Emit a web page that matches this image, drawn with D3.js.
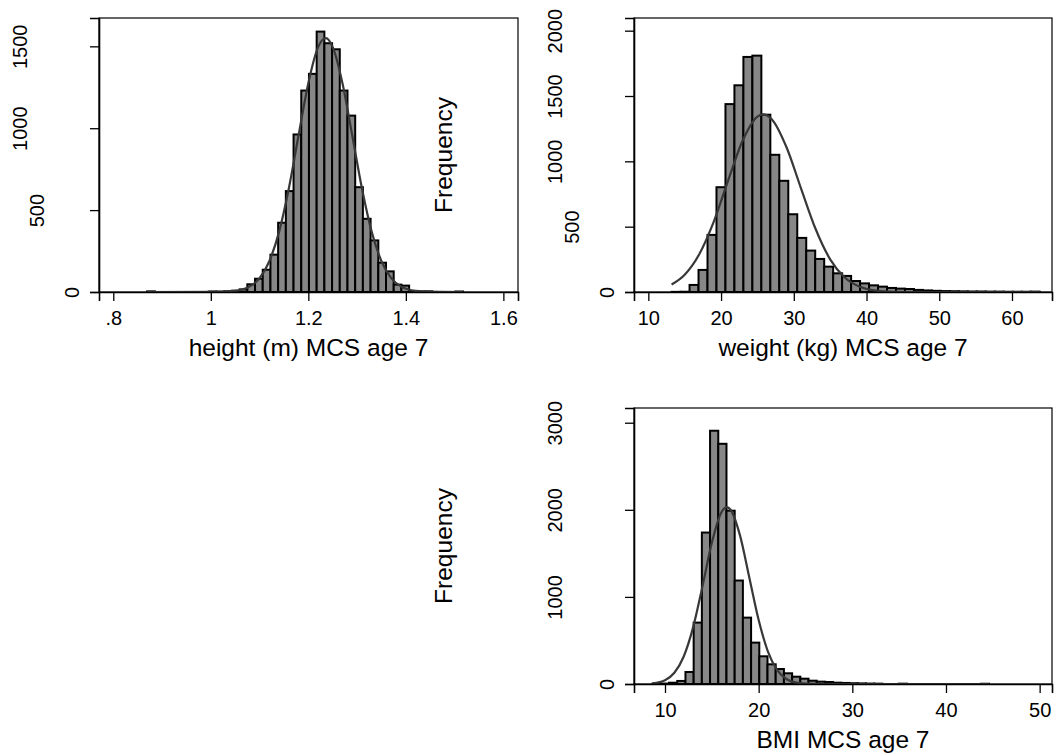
<!DOCTYPE html>
<meta charset="utf-8">
<style>
  body { margin: 0; background: #fff; }
  svg text { font-family: "Liberation Sans", Arial, sans-serif; fill: #000; }
</style>
<body></body>
<script src="https://cdn.jsdelivr.net/npm/d3@7/dist/d3.min.js"></script>
<script>
  // histogram data: first bin edge, bin width, counts per bin
  const heightStart = 0.8695
  const heightWidth = 0.0158
  const heightCounts = [4, 0, 0, 0, 0, 0, 0, 0, 3, 2, 4, 8, 16, 47, 81, 136, 228, 423, 616, 962,
    1230, 1332, 1590, 1519, 1482, 1230, 1077, 640, 447, 315, 179, 126, 45, 39, 6, 2, 4, 0, 0, 0, 3]
  // overlaid normal curve
  const heightCurveX = [0.8695, 1.0, 1.05, 1.08, 1.10, 1.12, 1.14, 1.16, 1.18, 1.20, 1.22, 1.236,
    1.25, 1.27, 1.29, 1.31, 1.33, 1.35, 1.37, 1.39, 1.42, 1.47, 1.517]
  const heightCurveY = [0, 0.2, 7, 34, 85, 188, 367, 632, 957, 1275, 1495, 1550,
    1495, 1275, 957, 632, 367, 188, 85, 34, 7, 0.2, 0]
  const heightXTicks = [0.8, 1, 1.2, 1.4, 1.6]
  const heightYTicks = [0, 500, 1000, 1500]

  const weightStart = 13.2
  const weightWidth = 1.234
  const weightCounts = [1, 2, 54, 169, 437, 802, 1438, 1582, 1799, 1809, 1357, 1050, 851, 595, 414,
    317, 253, 194, 143, 123, 84, 66, 51, 41, 31, 26, 23, 16, 12, 9, 7, 6, 5, 4, 4, 3, 3, 2, 2, 2, 3]
  const weightCurveX = [13.2, 15, 17, 19, 21, 23, 25, 25.8, 27, 29, 31, 33, 35, 37, 39, 41, 44, 48, 55, 63.8]
  const weightCurveY = [57, 132, 289, 539, 858, 1163, 1343, 1360, 1321, 1108, 792, 482, 250, 111, 42, 13, 2, 0, 0, 0]
  const weightXTicks = [10, 20, 30, 40, 50, 60]
  const weightYTicks = [0, 500, 1000, 1500, 2000]

  const bmiStart = 8.68
  const bmiWidth = 0.876
  const bmiCounts = [5, 5, 15, 35, 138, 705, 1739, 2908, 2758, 1990, 1188, 762, 475, 318, 226, 172,
    123, 84, 61, 38, 27, 23, 15, 12, 9, 7, 5, 4, 0, 0, 4, 0, 0, 0, 0, 0, 0, 0, 0, 0, 3]
  const bmiCurveX = [8.68, 10, 11, 12, 13, 14, 15, 16, 16.6, 17, 18, 19, 20, 21, 22, 23, 24, 26, 30, 44.6]
  const bmiCurveY = [8, 44, 129, 316, 650, 1121, 1621, 1967, 2030, 2001, 1709, 1224, 735, 370, 156, 55, 16, 1, 0, 0]
  const bmiXTicks = [10, 20, 30, 40, 50]
  const bmiYTicks = [0, 1000, 2000, 3000]

  const panels = [
    { title: "height (m) MCS age 7", start: heightStart, width: heightWidth, counts: heightCounts,
      curveX: heightCurveX, curveY: heightCurveY, xTicks: heightXTicks, yTicks: heightYTicks,
      xFormat: d => String(d).replace(/^0\./, "."),
      box: { left: 99, right: 518, top: 18, bottom: 292 }, xDomain: [0.7707, 1.630], yMax: 1673,
      ylabel: false },
    { title: "weight (kg) MCS age 7", start: weightStart, width: weightWidth, counts: weightCounts,
      curveX: weightCurveX, curveY: weightCurveY, xTicks: weightXTicks, yTicks: weightYTicks,
      xFormat: d => String(d),
      box: { left: 634, right: 1052, top: 18, bottom: 292 }, xDomain: [8.03, 65.5], yMax: 2097,
      ylabel: true },
    { title: "BMI MCS age 7", start: bmiStart, width: bmiWidth, counts: bmiCounts,
      curveX: bmiCurveX, curveY: bmiCurveY, xTicks: bmiXTicks, yTicks: bmiYTicks,
      xFormat: d => String(d),
      box: { left: 634, right: 1052, top: 408, bottom: 684 }, xDomain: [6.69, 51.32], yMax: 3169,
      ylabel: true }
  ]

  const svg = d3.select("body").append("svg")
    .attr("width", 1057)
    .attr("height", 756)

  svg.append("rect")
    .attr("width", 1057)
    .attr("height", 756)
    .attr("fill", "#fff")

  function drawPanel(p) {
    const b = p.box
    const x = d3.scaleLinear().domain(p.xDomain).range([b.left, b.right])
    const y = d3.scaleLinear().domain([0, p.yMax]).range([b.bottom, b.top])

    const g = svg.append("g")

    // plot region outline
    g.append("rect")
      .attr("x", b.left)
      .attr("y", b.top)
      .attr("width", b.right - b.left)
      .attr("height", b.bottom - b.top)
      .attr("fill", "none")
      .attr("stroke", "#000")
      .attr("stroke-width", 1.2)

    const bins = p.counts.map((c, i) => ({ x0: p.start + i * p.width, x1: p.start + (i + 1) * p.width, c }))
      .filter(d => d.c > 0)

    g.append("g")
      .selectAll("rect")
      .data(bins)
      .enter()
      .append("rect")
      .attr("x", d => x(d.x0))
      .attr("width", d => x(d.x1) - x(d.x0))
      .attr("y", d => y(d.c))
      .attr("height", d => y(0) - y(d.c))
      .attr("fill", "#878787")
      .attr("stroke", "#000")
      .attr("stroke-width", 2)

    const line = d3.line()
      .x(d => x(d[0]))
      .y(d => y(d[1]))
      .curve(d3.curveMonotoneX)

    g.append("path")
      .datum(d3.zip(p.curveX, p.curveY))
      .attr("d", line)
      .attr("fill", "none")
      .attr("stroke", "#383838")
      .attr("stroke-width", 2.2)

    // x axis
    const xAxis = g.append("g")
      .attr("transform", `translate(0, ${b.bottom})`)
      .call(d3.axisBottom(x).tickValues(p.xTicks).tickFormat(p.xFormat).tickSize(9).tickPadding(10))
    xAxis.select(".domain").attr("stroke-width", 1.6)
    xAxis.selectAll(".tick line").attr("stroke-width", 1.3)
    xAxis.selectAll("text")
      .attr("font-size", 20)
      .attr("font-family", "Liberation Sans, Arial, sans-serif")
      .attr("fill", "#000")

    // y axis, labels turned vertical and pushed left by their length
    const yAxis = g.append("g")
      .attr("transform", `translate(${b.left}, 0)`)
      .call(d3.axisLeft(y).tickValues(p.yTicks).tickSize(9).tickFormat(d3.format("d")))
    yAxis.select(".domain").attr("stroke-width", 1.6)
    yAxis.selectAll(".tick line").attr("stroke-width", 1.3)
    yAxis.selectAll(".tick text")
      .attr("font-size", 20)
      .attr("font-family", "Liberation Sans, Arial, sans-serif")
      .attr("fill", "#000")
      .attr("text-anchor", "middle")
      .attr("dy", null)
      .attr("dominant-baseline", "central")
      .each(function() {
        const w = this.getComputedTextLength()
        const cx = -(9.3 + 1.57 * w)
        d3.select(this).attr("x", null).attr("transform", `translate(${cx}, 0) rotate(-90)`)
      })

    svg.append("text")
      .attr("x", (b.left + b.right) / 2)
      .attr("y", b.bottom + 64)
      .attr("text-anchor", "middle")
      .attr("font-size", 24.5)
      .text(p.title)

    if (p.ylabel) {
      svg.append("text")
        .attr("transform", `translate(443, ${(b.top + b.bottom) / 2}) rotate(-90)`)
        .attr("text-anchor", "middle")
        .attr("dominant-baseline", "central")
        .attr("font-size", 24.5)
        .text("Frequency")
    }
  }

  panels.forEach(drawPanel)
</script>
